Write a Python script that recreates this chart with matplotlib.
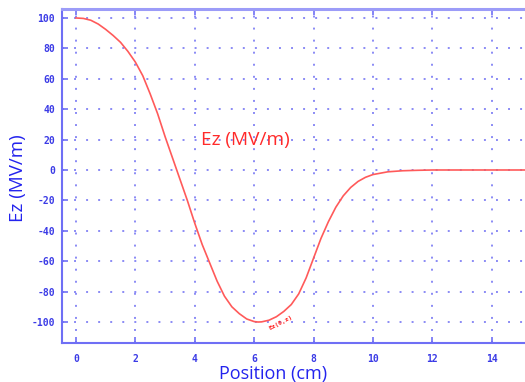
import matplotlib
matplotlib.use("Agg")
import matplotlib.pyplot as plt

# Data
position_cm = [0, 0.25, 0.5, 0.75, 1.0, 1.25, 1.5, 1.75, 2.0, 2.25, 2.5, 2.75,
               3.0, 3.25, 3.5, 3.75, 4.0, 4.25, 4.5, 4.75, 5.0, 5.25, 5.5, 5.75,
               6.0, 6.13, 6.25, 6.5, 6.75, 7.0, 7.25, 7.5, 7.75, 8.0, 8.25, 8.5,
               8.75, 9.0, 9.25, 9.5, 9.75, 10.0, 10.5, 11.0, 11.5, 12.0, 13.0,
               14.0, 15.2]
ez_mv_m = [100, 99.7, 98.5, 96, 92.5, 88.5, 84, 78, 71, 62, 50, 37,
           22, 8, -6, -20, -35, -49, -61, -73, -83, -90, -94.5, -98,
           -99.7, -100, -99.9, -98.8, -96.5, -93, -88.5, -81.5, -71, -58, -45, -34,
           -24.5, -17, -11.5, -7.5, -4.8, -3.0, -1.2, -0.5, -0.2, 0, 0,
           0, 0]
x_ticks = [0, 2, 4, 6, 8, 10, 12, 14]
y_ticks = [100, 80, 60, 40, 20, 0, -20, -40, -60, -80, -100]

W, H = 525, 382
fig = plt.figure(figsize=(W / 100, H / 100), dpi=100)
ax = fig.add_axes([62 / W, 1 - 343 / H, (W - 62) / W, (343 - 9) / H])

axis_col = "#6f6ff5"
tick_col = "#3b3be6"
grid_col = "#8a8af5"

ax.plot(position_cm, ez_mv_m, color="#ff5a5a", lw=1.2)

ax.set_xlim(-0.47, 15.12)
ax.set_ylim(-113.8, 105.9)
ax.set_xticks(x_ticks)
ax.set_yticks(y_ticks)
ax.set_xticklabels([str(v) for v in x_ticks])
ax.set_yticklabels([str(v) for v in y_ticks])

for lab in ax.get_xticklabels() + ax.get_yticklabels():
    lab.set_fontfamily("DejaVu Sans Mono")
    lab.set_fontweight("bold")
    lab.set_fontsize(7)
    lab.set_color(tick_col)

ax.tick_params(axis="both", direction="in", length=4, width=1.2, color=axis_col,
               top=True, right=False)
ax.tick_params(axis="y", pad=5)
ax.tick_params(axis="x", pad=8)

ax.grid(True, color=grid_col, linestyle=(0, (1, 5.2)), linewidth=1.4)

for side in ["left", "bottom"]:
    ax.spines[side].set_color(axis_col)
    ax.spines[side].set_linewidth(1.5)
ax.spines["top"].set_color("#9c9cf8")
ax.spines["top"].set_linewidth(2.2)
ax.spines["right"].set_visible(False)

ax.set_xlabel("Position (cm)", fontsize=13, color="#2323ee", family="Open Sans")
ax.set_ylabel("Ez (MV/m)", fontsize=13.5, color="#2323ee", family="Open Sans")
ax.xaxis.set_label_coords(0.456, -0.066)
ax.yaxis.set_label_coords(-0.075, 0.494)

ax.text(4.2, 20, "Ez (MV/m)", color="#ff2a2a", fontsize=13.7, family="Open Sans",
        va="center", ha="left")
ax.text(6.9, -100.7, "Ez(0,z)", color="#ff2020", fontsize=4.5, fontweight="bold",
        rotation=28, ha="center", va="center", family="DejaVu Sans Mono")

fig.savefig("out.png", dpi=100)
